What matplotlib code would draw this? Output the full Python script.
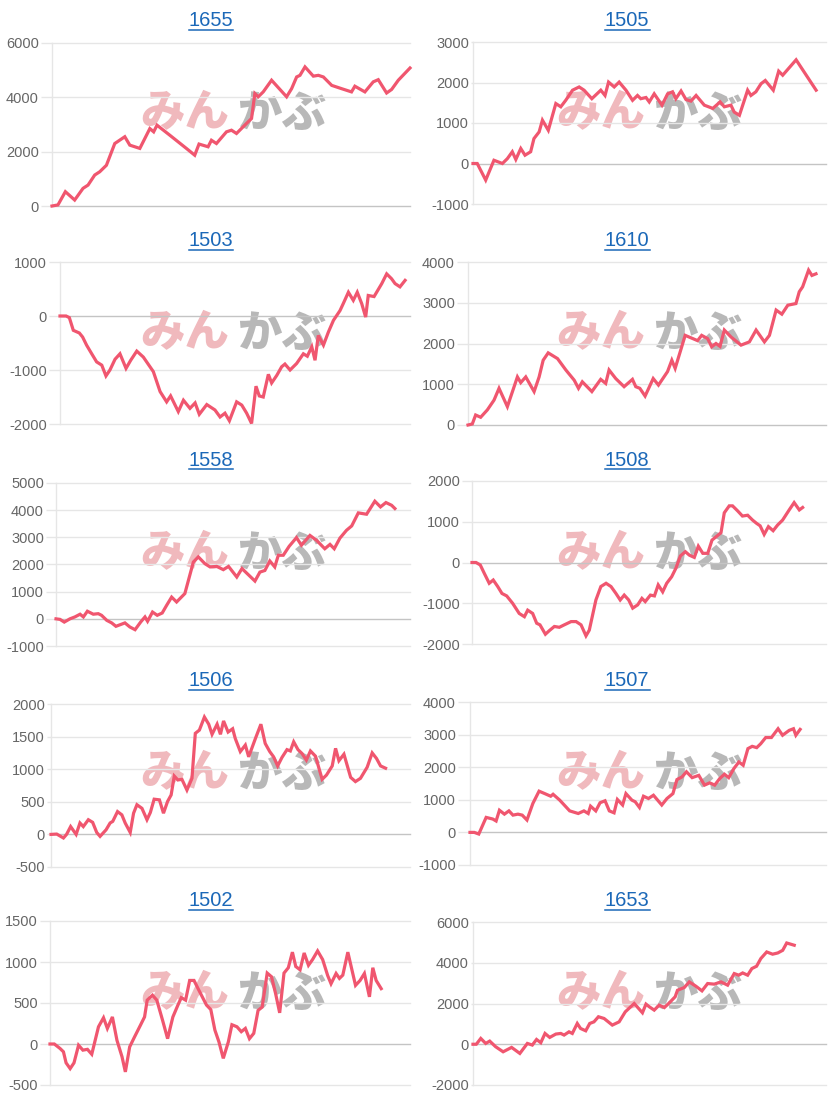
import matplotlib
matplotlib.use("Agg")
import matplotlib.pyplot as plt
from matplotlib.lines import Line2D

# ---------------- data (x = trading-day index on a 0..150 scale) ----------------
titles = ["1655", "1505", "1503", "1610", "1558", "1508", "1506", "1507", "1502", "1653"]

x_1655 = [0, 2.5, 5.6, 9.5, 13.0, 15.1, 17.9, 20.0, 22.8, 26.3, 30.5, 32.6, 36.8, 41.0, 42.6, 44.0, 49.3, 56.3, 59.8,
          61.6, 65.4, 66.8, 68.9, 73.1, 75.2, 77.3, 82.2, 83.6, 85.0, 86.4, 88.5, 92.0, 98.3, 100.4, 102.5, 103.9,
          106.0, 109.5, 111.6, 113.7, 117.2, 121.3, 125.5, 126.9, 131.1, 134.6, 136.7, 140.2, 142.3, 145.1, 150]
v_1655 = [0, 40, 527, 220, 650, 770, 1140, 1260, 1500, 2300, 2550, 2240, 2120, 2850, 2730, 2975, 2610, 2120, 1870,
          2280, 2180, 2420, 2300, 2730, 2790, 2670, 3100, 3220, 4140, 4020, 4200, 4630, 4020, 4320, 4750, 4810,
          5120, 4780, 4810, 4750, 4440, 4320, 4200, 4410, 4200, 4570, 4650, 4160, 4290, 4630, 5080]

x_1505 = [0, 1.8, 5.4, 8.9, 12.5, 14.6, 16.7, 18.2, 20.3, 22.1, 24.5, 25.9, 28.1, 29.5, 32.0, 35.2, 37.3, 39.4, 42.3,
          45.1, 47.2, 50.5, 54.3, 56.1, 57.6, 60.0, 62.1, 65.0, 67.8, 69.9, 71.3, 73.5, 74.9, 77.0, 80.3, 82.7, 84.8,
          86.2, 88.4, 90.5, 92.6, 94.8, 98.3, 101.9, 105.0, 106.8, 109.6, 111.0, 113.2, 116.7, 118.1, 120.2, 122.4,
          124.2, 127.6, 129.9, 131.6, 137.3, 145.8]
v_1505 = [0, 0, -410, 80, 0, 120, 290, 100, 370, 205, 290, 615, 780, 1070, 820, 1480, 1400, 1560, 1810,
          1890, 1810, 1600, 1810, 1680, 2010, 1890, 2010, 1810, 1560, 1680, 1600, 1630, 1520, 1720, 1440, 1720, 1770,
          1600, 1790, 1580, 1540, 1680, 1440, 1360, 1520, 1400, 1440, 1270, 1190, 1810, 1680, 1770, 1970,
          2050, 1810, 2280, 2180, 2560, 1810]

x_1503 = [0, 2.6, 4.0, 5.7, 8.3, 9.7, 11.4, 13.6, 15.7, 17.9, 19.7, 21.4, 23.6, 25.7, 28.3, 30.3, 32.9, 35.7, 40.0,
          42.9, 45.7, 47.4, 50.7, 52.9, 55.7, 57.9, 59.7, 62.9, 66.4, 68.6, 70.7, 72.6, 75.7, 77.9, 80.0, 82.1, 84.0,
          85.4, 87.1, 89.3, 90.7, 92.9, 95.0, 96.4, 98.6, 101.4, 104.3, 106.0, 107.9, 109.3, 110.7, 112.9, 115.0,
          117.2, 120.0, 121.4, 123.6, 125.7, 127.4, 129.3, 131.0, 132.1, 134.6, 137.9, 140.0, 142.1, 143.6, 145.7, 147.9]
v_1503 = [0, 0, -30, -265, -315, -390, -540, -700, -850, -910, -1110, -1000, -800, -700, -970, -820, -650, -760, -1030,
          -1400, -1590, -1480, -1770, -1560, -1710, -1610, -1820, -1640, -1740, -1870, -1800, -1940, -1590, -1650,
          -1800, -1990, -1300, -1480, -1500, -1080, -1240, -1100, -940, -890, -1000, -880, -700, -745, -570, -820,
          -360, -540, -300, -80, 100, 230, 440, 290, 440, 230, -20, 380, 360, 600, 780, 690, 600, 540, 660]

x_1610 = [0, 1.8, 3.2, 5.3, 8.1, 10.9, 13.0, 16.5, 20.7, 22.1, 24.2, 27.7, 29.8, 31.5, 33.6, 37.5, 41.0, 44.5, 46.3,
          47.9, 51.9, 55.6, 57.7, 59.1, 61.9, 65.4, 68.9, 70.3, 72.0, 74.2, 77.6, 79.8, 83.6, 85.4, 86.8, 91.0, 96.2,
          97.9, 100.4, 102.1, 103.9, 105.6, 107.4, 110.2, 114.4, 117.9, 120.7, 124.2, 126.3, 129.1, 131.5, 134.0,
          137.4, 138.8, 140.2, 142.7, 144.1, 145.8]
v_1610 = [0, 25, 245, 190, 370, 610, 900, 450, 1180, 1040, 1180, 820, 1180, 1590, 1770, 1630, 1350, 1100, 900,
          1060, 820, 1120, 1020, 1350, 1140, 940, 1120, 940, 900, 710, 1140, 980, 1310, 1590, 1390, 2200, 2070,
          2200, 2120, 1920, 2000, 1930, 2330, 2160, 1960, 2040, 2330, 2040, 2200, 2820, 2720, 2940,
          2980, 3270, 3390, 3800, 3670, 3710]

x_1558 = [0, 1.7, 3.5, 5.9, 8.0, 10.2, 11.6, 13.3, 15.8, 17.9, 19.3, 21.5, 23.6, 25.4, 29.2, 31.3, 33.5, 35.9, 37.7,
          38.8, 40.9, 42.9, 45.0, 46.9, 49.0, 51.1, 54.6, 58.2, 60.3, 63.1, 65.3, 68.1, 70.9, 73.1, 76.6, 78.8, 84.3,
          86.4, 88.5, 90.6, 92.7, 94.2, 96.3, 98.8, 101.9, 104.0, 107.6, 110.4, 113.9, 116.1, 117.9, 120.3, 123.1,
          125.3, 128.1, 131.6, 135.1, 137.5, 139.8, 142.2, 143.6]
v_1558 = [0, -20, -120, 0, 70, 170, 70, 280, 170, 190, 130, -55, -150, -275, -150, -300, -400, -115, 70,
          -90, 250, 130, 215, 500, 800, 620, 930, 2090, 2280, 2030, 1910, 1930, 1810, 1930, 1540, 1850, 1390,
          1720, 1780, 2130, 1910, 2340, 2340, 2670, 2990, 2710, 3070, 2890, 2580, 2740, 2580, 2970, 3260,
          3420, 3900, 3850, 4330, 4120, 4280, 4180, 4060]

x_1508 = [0, 1.7, 3.5, 5.2, 7.3, 9.0, 10.9, 12.7, 14.7, 17.2, 20.0, 22.2, 23.6, 25.7, 27.4, 28.8, 31.1, 32.8, 34.9,
          37.0, 39.1, 42.0, 44.1, 46.2, 48.3, 49.7, 52.5, 54.6, 56.8, 58.9, 61.0, 62.8, 64.5, 66.4, 68.1, 70.2, 72.0,
          73.4, 75.6, 77.3, 78.9, 80.8, 82.5, 84.6, 86.4, 88.3, 90.4, 92.1, 94.2, 95.9, 97.8, 99.9, 101.7, 103.4,
          105.5, 106.9, 109.0, 110.4, 112.5, 114.6, 116.8, 118.9, 120.6, 122.1, 123.8, 125.6, 127.6, 129.5, 131.6,
          134.4, 136.5, 138.7, 140.1]
v_1508 = [0, 0, -60, -265, -510, -430, -590, -760, -820, -1000, -1250, -1330, -1170, -1250, -1490, -1530, -1760,
          -1670, -1570, -1590, -1530, -1450, -1450, -1530, -1800, -1660, -920, -590, -510, -590, -760, -920, -800,
          -920, -1120, -1040, -880, -960, -800, -820, -550, -720, -510, -350, -140, 160, 265, 180, 125, 400, 225,
          225, 550, 630, 730, 1220, 1390, 1390, 1270, 1140, 1160, 1040, 960, 900, 690, 880, 780, 920, 1040,
          1290, 1470, 1290, 1350]

x_1506 = [0, 2.4, 5.2, 6.5, 8.2, 10.5, 12.1, 13.5, 15.6, 17.4, 19.1, 20.5, 23.0, 24.7, 25.8, 27.8, 29.6, 31.0, 33.1,
          34.5, 35.9, 38.0, 40.1, 41.5, 43.1, 45.3, 47.0, 48.7, 50.2, 51.5, 53.0, 54.7, 56.8, 58.9, 60.3, 62.0, 64.1,
          65.9, 67.3, 69.4, 70.8, 72.1, 74.0, 75.9, 77.0, 79.1, 81.2, 82.6, 85.4, 87.7, 89.5, 91.4, 93.0, 94.7, 96.5,
          98.6, 100.0, 101.4, 103.2, 104.9, 106.7, 108.4, 110.5, 113.3, 115.1, 117.5, 118.9, 120.3, 122.4, 125.2,
          127.2, 129.3, 132.1, 134.2, 136.0, 137.7, 139.8]
v_1506 = [0, 5, -55, 0, 120, 0, 175, 120, 225, 185, 30, -30, 70, 175, 200, 350, 300, 175, 30,
          325, 455, 400, 225, 335, 540, 530, 325, 505, 605, 895, 835, 845, 680, 860, 1550, 1600, 1800,
          1690, 1535, 1690, 1535, 1740, 1570, 1620, 1470, 1270, 1370, 1190, 1470, 1690, 1395, 1270, 1190, 1050, 1180,
          1300, 1280, 1420, 1300, 1240, 1140, 1280, 1200, 845, 910, 1050, 1320, 1130, 1230, 875,
          810, 860, 1030, 1250, 1165, 1050, 1015]

x_1507 = [0, 1.8, 3.7, 6.8, 9.6, 11.0, 12.4, 14.5, 16.4, 18.1, 20.2, 22.0, 24.0, 26.5, 29.1, 31.5, 34.0, 35.0, 37.8,
          42.0, 45.6, 48.0, 49.8, 50.8, 53.0, 54.8, 56.9, 58.7, 60.7, 62.1, 64.3, 65.7, 68.2, 69.6, 71.4, 73.1, 75.2,
          77.3, 80.8, 83.0, 85.5, 87.2, 89.3, 91.2, 93.6, 96.4, 98.8, 101.0, 103.1, 105.2, 107.2, 109.0, 111.2, 113.3,
          115.1, 117.1, 118.9, 120.8, 122.5, 124.6, 127.0, 129.8, 131.7, 134.5, 136.3, 137.3, 139.1]
v_1507 = [0, 0, -50, 460, 410, 350, 680, 560, 660, 530, 560, 530, 380, 890, 1265, 1190, 1110, 1170, 990,
          660, 580, 660, 580, 805, 660, 910, 970, 660, 600, 1010, 840, 1190, 990, 940, 765, 1110, 1040,
          1140, 840, 1040, 1190, 1620, 1700, 1860, 1680, 1750, 1450, 1520, 1450, 1650, 1785, 1680, 1960, 2160,
          2060, 2570, 2640, 2600, 2720, 2910, 2910, 3180, 2980, 3130, 3180, 2980, 3160]

x_1502 = [0, 1.8, 4.2, 5.6, 6.7, 8.4, 10.0, 11.9, 13.7, 15.6, 17.4, 20.2, 22.3, 23.9, 26.0, 27.9, 30.0, 31.4, 33.2,
          35.2, 37.7, 39.4, 40.5, 42.7, 44.5, 46.9, 49.0, 51.2, 53.3, 54.7, 56.5, 58.2, 60.0, 61.7, 63.8, 65.2, 67.0,
          68.7, 70.4, 72.2, 74.3, 75.8, 77.9, 79.7, 81.4, 83.1, 84.9, 86.7, 88.4, 90.5, 92.3, 94.0, 95.7, 97.5, 99.3,
          101.0, 102.4, 104.2, 105.9, 107.7, 109.4, 111.5, 113.6, 115.7, 117.1, 119.2, 120.6, 122.0, 124.1, 127.3,
          129.2, 131.0, 133.1, 134.5, 135.9, 138.0]
v_1502 = [0, 0, -55, -95, -230, -300, -230, -15, -75, -65, -125, 210, 320, 190, 330, 45, -155, -340, -35,
          85, 230, 330, 535, 595, 535, 290, 65, 330, 475, 565, 535, 775, 775, 675, 555, 475, 420,
          170, 25, -175, 25, 235, 210, 150, 190, 65, 130, 410, 450, 865, 820, 615, 380, 865, 930,
          1120, 945, 905, 1110, 960, 1030, 1135, 1030, 835, 735, 860, 800, 840, 1120, 715,
          775, 860, 575, 930, 775, 675]

x_1653 = [0, 1.4, 3.3, 5.4, 7.1, 9.6, 12.8, 16.4, 19.9, 23.1, 25.2, 27.0, 28.8, 30.6, 32.6, 35.2, 37.3, 38.7, 40.8,
          42.2, 44.3, 45.7, 47.9, 49.6, 51.4, 53.3, 55.7, 59.2, 62.1, 64.7, 68.5, 72.0, 73.5, 74.9, 77.0, 79.1, 81.3,
          83.4, 85.9, 86.9, 89.8, 91.9, 94.7, 97.3, 99.7, 102.5, 105.4, 108.2, 111.0, 112.9, 114.6, 116.7, 118.5,
          120.5, 122.3, 124.8, 127.3, 129.5, 131.6, 133.3, 136.5]
v_1653 = [0, 0, 285, 40, 155, -120, -370, -155, -450, 40, -40, 235, 75, 530, 335, 500, 530, 450, 610,
          530, 1020, 775, 660, 1020, 1100, 1350, 1265, 940, 1100, 1590, 2000, 1545, 1970, 1840, 1675, 1920, 1800,
          2030, 2330, 2650, 2785, 3060, 2850, 2620, 2980, 2950, 3060, 2900, 3470, 3390, 3500, 3390, 3715,
          3830, 4205, 4530, 4420, 4480, 4610, 4970, 4860]

xs = [x_1655, x_1505, x_1503, x_1610, x_1558, x_1508, x_1506, x_1507, x_1502, x_1653]
vs = [v_1655, v_1505, v_1503, v_1610, v_1558, v_1508, v_1506, v_1507, v_1502, v_1653]

y_ticks = [
    [0, 2000, 4000, 6000],
    [-1000, 0, 1000, 2000, 3000],
    [-2000, -1000, 0, 1000],
    [0, 1000, 2000, 3000, 4000],
    [-1000, 0, 1000, 2000, 3000, 4000, 5000],
    [-2000, -1000, 0, 1000, 2000],
    [-500, 0, 500, 1000, 1500, 2000],
    [-1000, 0, 1000, 2000, 3000, 4000],
    [-500, 0, 500, 1000, 1500],
    [-2000, 0, 2000, 4000, 6000],
]

# ---------------- layout (pixels) ----------------
W, H = 832, 1100
# left, right, top, bottom of each plotting area; gap between tick label and axis
boxes = [
    (52, 410, 43, 206, 13), (473, 826, 42, 204, 4),
    (60, 410, 262, 424, 13), (468, 826, 262, 425, 13),
    (56, 410, 483, 646, 12), (472, 826, 481, 644, 12),
    (51, 410, 704, 867, 6), (470, 826, 702, 865, 14),
    (50, 410, 921, 1085, 12), (473, 826, 922, 1085, 4),
]

LINE = "#f0566f"
GRID = "#e6e6e6"
ZERO = "#c4c4c4"
TICK_C = "#666666"
TITLE_C = "#1b68b8"

fig = plt.figure(figsize=(W / 100, H / 100), dpi=100)
fig.patch.set_facecolor("white")

for i in range(10):
    L, R, T, B, gap = boxes[i]
    col = i % 2
    row = i // 2
    ax = fig.add_axes([L / W, 1 - B / H, (R - L) / W, (B - T) / H])
    ax.set_facecolor("none")
    ax.set_zorder(2)
    yt = y_ticks[i]
    ax.set_ylim(yt[0], yt[-1])
    ax.set_xlim(0, 150)
    ax.set_yticks(yt)
    ax.set_yticklabels([str(t) for t in yt])
    ax.set_xticks([])
    for s in ["top", "right", "bottom"]:
        ax.spines[s].set_visible(False)
    ax.spines["left"].set_color(GRID)
    ax.spines["left"].set_linewidth(1.0)
    tick_len_px = max(gap - 2, 2)
    ax.tick_params(axis="y", length=tick_len_px * 0.72, width=1.0, color=GRID,
                   pad=1.5, labelsize=10.5, labelcolor=TICK_C)
    for lab in ax.get_yticklabels():
        lab.set_family(["Liberation Sans", "DejaVu Sans"])
    for t in yt:
        ax.axhline(t, color=(ZERO if t == 0 else GRID), lw=1.0, zorder=1, clip_on=False)
    ax.plot(xs[i], vs[i], color=LINE, lw=2.3, solid_joinstyle="miter", zorder=3, clip_on=False)

    # title with underline
    cx = 211 + col * 416
    cy = 20 + row * 220
    fig.text(cx / W, 1 - cy / H, titles[i], ha="center", va="center", fontsize=14.5,
             color=TITLE_C, family=["Liberation Sans", "DejaVu Sans"])
    fig.add_artist(Line2D([(cx - 22.5) / W, (cx + 22.5) / W], [1 - (cy + 9.5) / H, 1 - (cy + 9.5) / H],
                          color=TITLE_C, lw=1.1))

    # watermark
    wx = 233 + col * 416
    wy = 113 + row * 220
    fig.text((wx - 4) / W, 1 - wy / H, "みん", ha="right", va="center", fontsize=32,
             color="#f0b9bd", weight="heavy", style="italic",
             family=["Noto Sans CJK JP", "DejaVu Sans"], zorder=0)
    fig.text((wx + 4) / W, 1 - wy / H, "かぶ", ha="left", va="center", fontsize=32,
             color="#b8b8b8", weight="heavy", style="italic",
             family=["Noto Sans CJK JP", "DejaVu Sans"], zorder=0)

fig.savefig("out.png", dpi=100, facecolor="white")
